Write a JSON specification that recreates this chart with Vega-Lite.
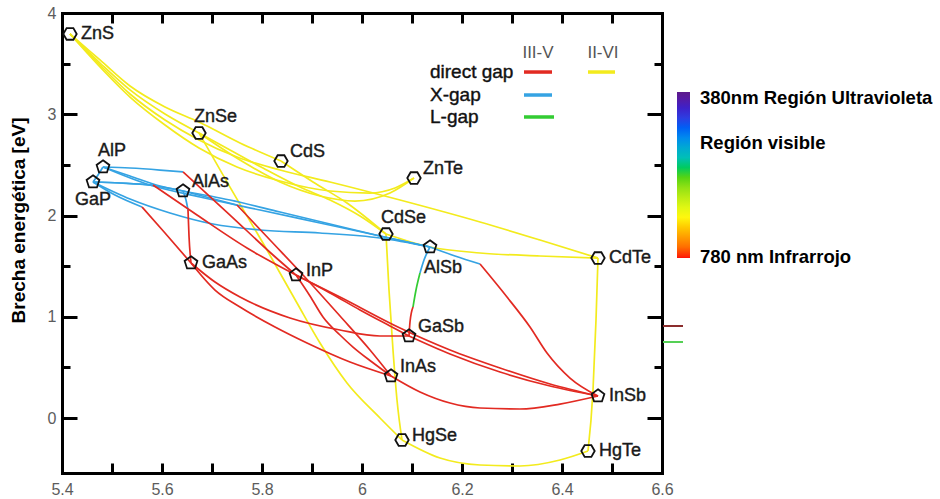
{
  "$schema": "https://vega.github.io/schema/vega-lite/v6.json",
  "width": 600,
  "height": 460,
  "autosize": {"type": "none"},
  "padding": {"left": 62, "top": 13, "right": 278, "bottom": 26},
  "background": "white",
  "config": {
    "view": {"stroke": null},
    "axis": {"domainColor": "black", "domainWidth": 3, "domainCap": "square", "tickColor": "black", "tickWidth": 3, "grid": false, "labelFont": "Liberation Sans", "labelFontSize": 16, "labelColor": "#5c5c5c", "labelFlush": false, "labelOverlap": false}
  },
  "datasets": {
    "curvas": [
      {"c":"ZnS-ZnSe","t":"II-VI","x":5.416,"y":3.793},{"c":"ZnS-ZnSe","t":"II-VI","x":5.476,"y":3.506},{"c":"ZnS-ZnSe","t":"II-VI","x":5.536,"y":3.24},{"c":"ZnS-ZnSe","t":"II-VI","x":5.606,"y":3.002},{"c":"ZnS-ZnSe","t":"II-VI","x":5.674,"y":2.815},
      {"c":"ZnS-CdS","t":"II-VI","x":5.416,"y":3.793},{"c":"ZnS-CdS","t":"II-VI","x":5.476,"y":3.536},{"c":"ZnS-CdS","t":"II-VI","x":5.536,"y":3.279},{"c":"ZnS-CdS","t":"II-VI","x":5.606,"y":3.072},{"c":"ZnS-CdS","t":"II-VI","x":5.674,"y":2.923},{"c":"ZnS-CdS","t":"II-VI","x":5.756,"y":2.716},{"c":"ZnS-CdS","t":"II-VI","x":5.838,"y":2.538},
      {"c":"ZnS-CdTe","t":"II-VI","x":5.416,"y":3.793},{"c":"ZnS-CdTe","t":"II-VI","x":5.476,"y":3.486},{"c":"ZnS-CdTe","t":"II-VI","x":5.536,"y":3.2},{"c":"ZnS-CdTe","t":"II-VI","x":5.606,"y":2.943},{"c":"ZnS-CdTe","t":"II-VI","x":5.674,"y":2.746},{"c":"ZnS-CdTe","t":"II-VI","x":5.75,"y":2.578},{"c":"ZnS-CdTe","t":"II-VI","x":5.836,"y":2.449},{"c":"ZnS-CdTe","t":"II-VI","x":5.936,"y":2.331},{"c":"ZnS-CdTe","t":"II-VI","x":6.076,"y":2.153},{"c":"ZnS-CdTe","t":"II-VI","x":6.236,"y":1.936},{"c":"ZnS-CdTe","t":"II-VI","x":6.356,"y":1.758},{"c":"ZnS-CdTe","t":"II-VI","x":6.472,"y":1.58},
      {"c":"ZnS-ZnTe","t":"II-VI","x":5.416,"y":3.793},{"c":"ZnS-ZnTe","t":"II-VI","x":5.476,"y":3.467},{"c":"ZnS-ZnTe","t":"II-VI","x":5.536,"y":3.17},{"c":"ZnS-ZnTe","t":"II-VI","x":5.606,"y":2.894},{"c":"ZnS-ZnTe","t":"II-VI","x":5.674,"y":2.667},{"c":"ZnS-ZnTe","t":"II-VI","x":5.75,"y":2.479},{"c":"ZnS-ZnTe","t":"II-VI","x":5.836,"y":2.341},{"c":"ZnS-ZnTe","t":"II-VI","x":5.936,"y":2.242},{"c":"ZnS-ZnTe","t":"II-VI","x":6.016,"y":2.222},{"c":"ZnS-ZnTe","t":"II-VI","x":6.066,"y":2.272},{"c":"ZnS-ZnTe","t":"II-VI","x":6.104,"y":2.37},
      {"c":"ZnSe-ZnTe","t":"II-VI","x":5.674,"y":2.815},{"c":"ZnSe-ZnTe","t":"II-VI","x":5.756,"y":2.548},{"c":"ZnSe-ZnTe","t":"II-VI","x":5.836,"y":2.331},{"c":"ZnSe-ZnTe","t":"II-VI","x":5.916,"y":2.193},{"c":"ZnSe-ZnTe","t":"II-VI","x":5.986,"y":2.143},{"c":"ZnSe-ZnTe","t":"II-VI","x":6.056,"y":2.222},{"c":"ZnSe-ZnTe","t":"II-VI","x":6.104,"y":2.37},
      {"c":"ZnSe-CdSe","t":"II-VI","x":5.674,"y":2.815},{"c":"ZnSe-CdSe","t":"II-VI","x":5.736,"y":2.647},{"c":"ZnSe-CdSe","t":"II-VI","x":5.802,"y":2.469},{"c":"ZnSe-CdSe","t":"II-VI","x":5.876,"y":2.281},{"c":"ZnSe-CdSe","t":"II-VI","x":5.936,"y":2.153},{"c":"ZnSe-CdSe","t":"II-VI","x":5.996,"y":1.995},{"c":"ZnSe-CdSe","t":"II-VI","x":6.048,"y":1.817},
      {"c":"ZnSe-HgSe","t":"II-VI","x":5.674,"y":2.815},{"c":"ZnSe-HgSe","t":"II-VI","x":5.736,"y":2.281},{"c":"ZnSe-HgSe","t":"II-VI","x":5.81,"y":1.659},{"c":"ZnSe-HgSe","t":"II-VI","x":5.87,"y":1.136},{"c":"ZnSe-HgSe","t":"II-VI","x":5.916,"y":0.741},{"c":"ZnSe-HgSe","t":"II-VI","x":5.97,"y":0.346},{"c":"ZnSe-HgSe","t":"II-VI","x":6.036,"y":0},{"c":"ZnSe-HgSe","t":"II-VI","x":6.08,"y":-0.217},
      {"c":"CdS-CdSe","t":"II-VI","x":5.838,"y":2.538},{"c":"CdS-CdSe","t":"II-VI","x":5.902,"y":2.331},{"c":"CdS-CdSe","t":"II-VI","x":5.97,"y":2.123},{"c":"CdS-CdSe","t":"II-VI","x":6.048,"y":1.817},
      {"c":"CdSe-CdTe","t":"II-VI","x":6.048,"y":1.817},{"c":"CdSe-CdTe","t":"II-VI","x":6.136,"y":1.689},{"c":"CdSe-CdTe","t":"II-VI","x":6.236,"y":1.63},{"c":"CdSe-CdTe","t":"II-VI","x":6.356,"y":1.6},{"c":"CdSe-CdTe","t":"II-VI","x":6.472,"y":1.58},
      {"c":"CdSe-HgSe","t":"II-VI","x":6.048,"y":1.817},{"c":"CdSe-HgSe","t":"II-VI","x":6.054,"y":1.264},{"c":"CdSe-HgSe","t":"II-VI","x":6.062,"y":0.672},{"c":"CdSe-HgSe","t":"II-VI","x":6.07,"y":0.178},{"c":"CdSe-HgSe","t":"II-VI","x":6.08,"y":-0.217},
      {"c":"HgSe-HgTe","t":"II-VI","x":6.08,"y":-0.217},{"c":"HgSe-HgTe","t":"II-VI","x":6.156,"y":-0.395},{"c":"HgSe-HgTe","t":"II-VI","x":6.236,"y":-0.464},{"c":"HgSe-HgTe","t":"II-VI","x":6.316,"y":-0.474},{"c":"HgSe-HgTe","t":"II-VI","x":6.396,"y":-0.415},{"c":"HgSe-HgTe","t":"II-VI","x":6.452,"y":-0.326},
      {"c":"CdTe-HgTe","t":"II-VI","x":6.452,"y":-0.326},{"c":"CdTe-HgTe","t":"II-VI","x":6.462,"y":0.277},{"c":"CdTe-HgTe","t":"II-VI","x":6.468,"y":0.968},{"c":"CdTe-HgTe","t":"II-VI","x":6.472,"y":1.58},
      {"c":"AlP-GaP","t":"X","x":5.462,"y":2.331},{"c":"AlP-GaP","t":"X","x":5.472,"y":2.4},{"c":"AlP-GaP","t":"X","x":5.482,"y":2.479},
      {"c":"AlP-AlAs","t":"X","x":5.482,"y":2.479},{"c":"AlP-AlAs","t":"X","x":5.536,"y":2.39},{"c":"AlP-AlAs","t":"X","x":5.596,"y":2.291},{"c":"AlP-AlAs","t":"X","x":5.642,"y":2.242},
      {"c":"GaP-AlAs","t":"X","x":5.462,"y":2.331},{"c":"GaP-AlAs","t":"X","x":5.516,"y":2.321},{"c":"GaP-AlAs","t":"X","x":5.576,"y":2.301},{"c":"GaP-AlAs","t":"X","x":5.642,"y":2.242},
      {"c":"AlP-InP X","t":"X","x":5.482,"y":2.479},{"c":"AlP-InP X","t":"X","x":5.536,"y":2.469},{"c":"AlP-InP X","t":"X","x":5.596,"y":2.449},{"c":"AlP-InP X","t":"X","x":5.642,"y":2.43},
      {"c":"GaP-InP X","t":"X","x":5.462,"y":2.331},{"c":"GaP-InP X","t":"X","x":5.516,"y":2.321},{"c":"GaP-InP X","t":"X","x":5.582,"y":2.301},
      {"c":"GaP-GaAs X","t":"X","x":5.462,"y":2.331},{"c":"GaP-GaAs X","t":"X","x":5.506,"y":2.202},{"c":"GaP-GaAs X","t":"X","x":5.56,"y":2.084},
      {"c":"AlAs-GaAs X","t":"X","x":5.642,"y":2.242},{"c":"AlAs-GaAs X","t":"X","x":5.648,"y":2.153},{"c":"AlAs-GaAs X","t":"X","x":5.652,"y":2.054},
      {"c":"AlAs-InAs X","t":"X","x":5.642,"y":2.242},{"c":"AlAs-InAs X","t":"X","x":5.696,"y":2.173},{"c":"AlAs-InAs X","t":"X","x":5.75,"y":2.104},
      {"c":"AlAs-AlSb","t":"X","x":5.642,"y":2.242},{"c":"AlAs-AlSb","t":"X","x":5.736,"y":2.153},{"c":"AlAs-AlSb","t":"X","x":5.836,"y":2.035},{"c":"AlAs-AlSb","t":"X","x":5.936,"y":1.916},{"c":"AlAs-AlSb","t":"X","x":6.036,"y":1.798},{"c":"AlAs-AlSb","t":"X","x":6.136,"y":1.689},
      {"c":"AlP-AlSb","t":"X","x":5.482,"y":2.479},{"c":"AlP-AlSb","t":"X","x":5.576,"y":2.301},{"c":"AlP-AlSb","t":"X","x":5.676,"y":2.183},{"c":"AlP-AlSb","t":"X","x":5.796,"y":2.054},{"c":"AlP-AlSb","t":"X","x":5.916,"y":1.926},{"c":"AlP-AlSb","t":"X","x":6.036,"y":1.798},{"c":"AlP-AlSb","t":"X","x":6.136,"y":1.689},
      {"c":"GaP-AlSb","t":"X","x":5.462,"y":2.331},{"c":"GaP-AlSb","t":"X","x":5.536,"y":2.163},{"c":"GaP-AlSb","t":"X","x":5.616,"y":2.025},{"c":"GaP-AlSb","t":"X","x":5.702,"y":1.916},{"c":"GaP-AlSb","t":"X","x":5.796,"y":1.857},{"c":"GaP-AlSb","t":"X","x":5.916,"y":1.827},{"c":"GaP-AlSb","t":"X","x":6.036,"y":1.778},{"c":"GaP-AlSb","t":"X","x":6.136,"y":1.689},
      {"c":"AlSb-InSb X","t":"X","x":6.136,"y":1.689},{"c":"AlSb-InSb X","t":"X","x":6.186,"y":1.6},{"c":"AlSb-InSb X","t":"X","x":6.236,"y":1.521},
      {"c":"AlSb-GaSb X","t":"X","x":6.116,"y":1.432},{"c":"AlSb-GaSb X","t":"X","x":6.124,"y":1.56},{"c":"AlSb-GaSb X","t":"X","x":6.136,"y":1.689},
      {"c":"AlSb-GaSb L","t":"L","x":6.102,"y":1.096},{"c":"AlSb-GaSb L","t":"L","x":6.108,"y":1.264},{"c":"AlSb-GaSb L","t":"L","x":6.116,"y":1.432},
      {"c":"AlSb-GaSb D","t":"directo","x":6.094,"y":0.81},{"c":"AlSb-GaSb D","t":"directo","x":6.096,"y":0.948},{"c":"AlSb-GaSb D","t":"directo","x":6.102,"y":1.096},
      {"c":"AlP-InP D","t":"directo","x":5.642,"y":2.43},{"c":"AlP-InP D","t":"directo","x":5.736,"y":2.005},{"c":"AlP-InP D","t":"directo","x":5.822,"y":1.61},{"c":"AlP-InP D","t":"directo","x":5.868,"y":1.412},
      {"c":"GaP-InP D","t":"directo","x":5.582,"y":2.301},{"c":"GaP-InP D","t":"directo","x":5.67,"y":2.005},{"c":"GaP-InP D","t":"directo","x":5.77,"y":1.679},{"c":"GaP-InP D","t":"directo","x":5.868,"y":1.412},
      {"c":"GaP-GaAs D","t":"directo","x":5.56,"y":2.084},{"c":"GaP-GaAs D","t":"directo","x":5.606,"y":1.827},{"c":"GaP-GaAs D","t":"directo","x":5.658,"y":1.531},
      {"c":"AlAs-GaAs D","t":"directo","x":5.652,"y":2.054},{"c":"AlAs-GaAs D","t":"directo","x":5.654,"y":1.798},{"c":"AlAs-GaAs D","t":"directo","x":5.658,"y":1.531},
      {"c":"AlAs-InAs D","t":"directo","x":5.75,"y":2.104},{"c":"AlAs-InAs D","t":"directo","x":5.816,"y":1.758},{"c":"AlAs-InAs D","t":"directo","x":5.882,"y":1.412},{"c":"AlAs-InAs D","t":"directo","x":5.956,"y":1.007},{"c":"AlAs-InAs D","t":"directo","x":6.016,"y":0.672},{"c":"AlAs-InAs D","t":"directo","x":6.058,"y":0.415},
      {"c":"GaAs-InAs","t":"directo","x":5.658,"y":1.531},{"c":"GaAs-InAs","t":"directo","x":5.706,"y":1.264},{"c":"GaAs-InAs","t":"directo","x":5.756,"y":1.096},{"c":"GaAs-InAs","t":"directo","x":5.826,"y":0.899},{"c":"GaAs-InAs","t":"directo","x":5.89,"y":0.741},{"c":"GaAs-InAs","t":"directo","x":5.976,"y":0.553},{"c":"GaAs-InAs","t":"directo","x":6.058,"y":0.415},
      {"c":"GaAs-GaSb","t":"directo","x":5.658,"y":1.531},{"c":"GaAs-GaSb","t":"directo","x":5.706,"y":1.343},{"c":"GaAs-GaSb","t":"directo","x":5.756,"y":1.195},{"c":"GaAs-GaSb","t":"directo","x":5.856,"y":0.988},{"c":"GaAs-GaSb","t":"directo","x":5.956,"y":0.869},{"c":"GaAs-GaSb","t":"directo","x":6.036,"y":0.81},{"c":"GaAs-GaSb","t":"directo","x":6.094,"y":0.81},
      {"c":"InP-InAs","t":"directo","x":5.868,"y":1.412},{"c":"InP-InAs","t":"directo","x":5.896,"y":1.205},{"c":"InP-InAs","t":"directo","x":5.922,"y":0.998},{"c":"InP-InAs","t":"directo","x":5.956,"y":0.82},{"c":"InP-InAs","t":"directo","x":5.982,"y":0.701},{"c":"InP-InAs","t":"directo","x":6.02,"y":0.553},{"c":"InP-InAs","t":"directo","x":6.058,"y":0.415},
      {"c":"InP-GaSb","t":"directo","x":5.868,"y":1.412},{"c":"InP-GaSb","t":"directo","x":5.936,"y":1.235},{"c":"InP-GaSb","t":"directo","x":5.996,"y":1.067},{"c":"InP-GaSb","t":"directo","x":6.056,"y":0.909},{"c":"InP-GaSb","t":"directo","x":6.094,"y":0.81},
      {"c":"InP-InSb","t":"directo","x":5.868,"y":1.412},{"c":"InP-InSb","t":"directo","x":5.956,"y":1.195},{"c":"InP-InSb","t":"directo","x":6.076,"y":0.889},{"c":"InP-InSb","t":"directo","x":6.176,"y":0.672},{"c":"InP-InSb","t":"directo","x":6.276,"y":0.494},{"c":"InP-InSb","t":"directo","x":6.376,"y":0.336},{"c":"InP-InSb","t":"directo","x":6.472,"y":0.217},
      {"c":"GaSb-InSb","t":"directo","x":6.094,"y":0.81},{"c":"GaSb-InSb","t":"directo","x":6.176,"y":0.632},{"c":"GaSb-InSb","t":"directo","x":6.276,"y":0.454},{"c":"GaSb-InSb","t":"directo","x":6.376,"y":0.316},{"c":"GaSb-InSb","t":"directo","x":6.472,"y":0.217},
      {"c":"InAs-InSb","t":"directo","x":6.058,"y":0.415},{"c":"InAs-InSb","t":"directo","x":6.116,"y":0.257},{"c":"InAs-InSb","t":"directo","x":6.176,"y":0.148},{"c":"InAs-InSb","t":"directo","x":6.236,"y":0.099},{"c":"InAs-InSb","t":"directo","x":6.316,"y":0.089},{"c":"InAs-InSb","t":"directo","x":6.396,"y":0.138},{"c":"InAs-InSb","t":"directo","x":6.472,"y":0.217},
      {"c":"AlSb-InSb D","t":"directo","x":6.236,"y":1.521},{"c":"AlSb-InSb D","t":"directo","x":6.29,"y":1.195},{"c":"AlSb-InSb D","t":"directo","x":6.336,"y":0.899},{"c":"AlSb-InSb D","t":"directo","x":6.37,"y":0.642},{"c":"AlSb-InSb D","t":"directo","x":6.416,"y":0.395},{"c":"AlSb-InSb D","t":"directo","x":6.472,"y":0.217}
    ],
    "compuestos": [
      {"n":"ZnS","f":"II-VI","x":5.416,"y":3.793},
      {"n":"ZnSe","f":"II-VI","x":5.674,"y":2.815},
      {"n":"CdS","f":"II-VI","x":5.838,"y":2.538},
      {"n":"ZnTe","f":"II-VI","x":6.104,"y":2.37},
      {"n":"CdSe","f":"II-VI","x":6.048,"y":1.817},
      {"n":"CdTe","f":"II-VI","x":6.472,"y":1.58},
      {"n":"HgSe","f":"II-VI","x":6.08,"y":-0.217},
      {"n":"HgTe","f":"II-VI","x":6.452,"y":-0.326},
      {"n":"AlP","f":"III-V","x":5.482,"y":2.479},
      {"n":"GaP","f":"III-V","x":5.462,"y":2.331},
      {"n":"AlAs","f":"III-V","x":5.642,"y":2.242},
      {"n":"GaAs","f":"III-V","x":5.658,"y":1.531},
      {"n":"InP","f":"III-V","x":5.868,"y":1.412},
      {"n":"AlSb","f":"III-V","x":6.136,"y":1.689},
      {"n":"GaSb","f":"III-V","x":6.094,"y":0.81},
      {"n":"InAs","f":"III-V","x":6.058,"y":0.415},
      {"n":"InSb","f":"III-V","x":6.472,"y":0.217}
    ],
    "muestras": [
      {"t":"directo","x":6.324,"x2":6.38,"y":3.417},
      {"t":"II-VI","x":6.452,"x2":6.506,"y":3.417},
      {"t":"X","x":6.324,"x2":6.38,"y":3.19},
      {"t":"L","x":6.324,"x2":6.384,"y":2.973}
    ],
    "leyenda": [
      {"txt":"III-V","k":"h","x":6.352,"y":3.605},
      {"txt":"II-VI","k":"h","x":6.482,"y":3.605},
      {"txt":"direct gap","k":"t","x":6.136,"y":3.417},
      {"txt":"X-gap","k":"t","x":6.136,"y":3.19},
      {"txt":"L-gap","k":"t","x":6.136,"y":2.973}
    ]
  },
  "layer": [
    {
      "data": {"values": [{"eV": 1.59}, {"eV": 3.26}]},
      "mark": {"type": "rect", "fillOpacity": 0, "strokeWidth": 0},
      "encoding": {
        "fill": {
          "field": "eV", "type": "quantitative",
          "scale": {"domain": [1.59, 1.79, 2.0175, 2.258, 2.458, 2.659, 2.926, 3.093, 3.26], "range": ["#ff0a0a", "#ff9900", "#ffff1a", "#a6e619", "#19cc19", "#19b3c8", "#1a4ff0", "#3a22cc", "#5c1a8a"]},
          "legend": {"title": null, "orient": "none", "legendX": 615, "legendY": 79, "direction": "vertical", "gradientLength": 166, "gradientThickness": 13, "gradientStrokeWidth": 0, "padding": 0, "values": [1.6, 2.747, 3.2], "labelExpr": "datum.value > 3 ? '380nm Región Ultravioleta' : datum.value > 2 ? 'Región visible' : '780 nm Infrarrojo'", "labelFont": "Liberation Sans", "labelFontSize": 18.5, "labelFontWeight": "bold", "labelColor": "black", "labelOffset": 10, "labelBaseline": "middle", "labelLimit": 400, "labelOverlap": false,
                     "encode": {"labels": {"update": {"baseline": {"value": "middle"}}}}}
        }
      }
    },
    {
      "data": {"name": "curvas"},
      "mark": {"type": "line", "strokeWidth": 1.7, "interpolate": "monotone"},
      "encoding": {
        "x": {"field": "x", "type": "quantitative", "scale": {"domain": [5.4, 6.6], "nice": false, "zero": false},
              "axis": {"orient": "bottom", "values": [5.4,5.5,5.6,5.7,5.8,5.9,6,6.1,6.2,6.3,6.4,6.5,6.6], "labelExpr": "round(datum.value*10)%2==0 ? format(datum.value,'~g') : ''", "tickSize": -10, "labelPadding": 18, "title": null}},
        "y": {"field": "y", "type": "quantitative", "scale": {"domain": [-0.543, 4], "nice": false, "zero": false},
              "axis": {"orient": "left", "values": [0,1,2,3,4], "format": "d", "tickSize": -15, "labelPadding": 21, "title": "Brecha energética [eV]", "titleFont": "Liberation Sans", "titleFontSize": 19, "titleFontWeight": "bold", "titleColor": "black", "titleX": -44, "titleY": 207, "titleAngle": 270, "titleAlign": "center", "titleBaseline": "middle"}},
        "stroke": {"field": "t", "type": "nominal", "scale": {"domain": ["directo", "X", "L", "II-VI"], "range": ["#e22a22", "#35a3e3", "#33cc33", "#f3eb1d"]}, "legend": null},
        "detail": {"field": "c"}
      }
    },
    {
      "data": {"name": "muestras"},
      "mark": {"type": "rule", "strokeWidth": 3.5},
      "encoding": {
        "x": {"field": "x", "type": "quantitative", "axis": null},
        "x2": {"field": "x2"},
        "y": {"field": "y", "type": "quantitative", "axis": null},
        "stroke": {"field": "t", "type": "nominal", "legend": null}
      }
    },
    {
      "data": {"name": "leyenda"},
      "transform": [{"filter": "datum.k == 'h'"}],
      "mark": {"type": "text", "align": "center", "baseline": "middle", "font": "Liberation Sans", "fontSize": 17, "fill": "#555555"},
      "encoding": {
        "x": {"field": "x", "type": "quantitative", "axis": null},
        "y": {"field": "y", "type": "quantitative", "axis": null},
        "text": {"field": "txt"}
      }
    },
    {
      "data": {"name": "leyenda"},
      "transform": [{"filter": "datum.k == 't'"}],
      "mark": {"type": "text", "align": "left", "baseline": "middle", "font": "Liberation Sans", "fontSize": 19, "fill": "#111111", "stroke": "#111111", "strokeWidth": 0.4},
      "encoding": {
        "x": {"field": "x", "type": "quantitative", "axis": null},
        "y": {"field": "y", "type": "quantitative", "axis": null},
        "text": {"field": "txt"}
      }
    },
    {
      "data": {"values": [{"x": 6.602, "x2": 6.642, "y": 0.909}]},
      "mark": {"type": "rule", "strokeWidth": 2, "stroke": "#8b2d2d"},
      "encoding": {
        "x": {"field": "x", "type": "quantitative", "axis": null},
        "x2": {"field": "x2"},
        "y": {"field": "y", "type": "quantitative", "axis": null}
      }
    },
    {
      "data": {"values": [{"x": 6.602, "x2": 6.642, "y": 0.751}]},
      "mark": {"type": "rule", "strokeWidth": 2, "stroke": "#55d055"},
      "encoding": {
        "x": {"field": "x", "type": "quantitative", "axis": null},
        "x2": {"field": "x2"},
        "y": {"field": "y", "type": "quantitative", "axis": null}
      }
    },
    {
      "data": {"name": "compuestos"},
      "mark": {"type": "point", "filled": false, "stroke": "#111111", "strokeWidth": 1.8, "size": 180, "opacity": 1},
      "encoding": {
        "x": {"field": "x", "type": "quantitative", "axis": {"orient": "top", "values": [5.4,5.5,5.6,5.7,5.8,5.9,6,6.1,6.2,6.3,6.4,6.5,6.6], "labels": false, "tickSize": -10, "title": null}},
        "y": {"field": "y", "type": "quantitative", "axis": {"orient": "right", "values": [0,1,2,3], "labels": false, "tickSize": -15, "title": null}},
        "shape": {"field": "f", "type": "nominal", "scale": {"domain": ["III-V", "II-VI"], "range": ["M0,-1L0.951,-0.309L0.588,0.809L-0.588,0.809L-0.951,-0.309Z", "M-1,0L-0.5,-0.866L0.5,-0.866L1,0L0.5,0.866L-0.5,0.866Z"]}, "legend": null}
      }
    },
    {
      "data": {"name": "compuestos"},
      "transform": [{"filter": {"field": "n", "oneOf": ["ZnS", "CdTe", "GaAs", "InSb", "HgTe"]}}],
      "mark": {"type": "text", "align": "left", "baseline": "middle", "dx": 11, "dy": 0, "font": "Liberation Sans", "fontSize": 18, "fill": "#1a1a1a", "stroke": "#1a1a1a", "strokeWidth": 0.4},
      "encoding": {
        "x": {"field": "x", "type": "quantitative", "axis": null},
        "y": {"field": "y", "type": "quantitative", "axis": {"orient": "left", "values": [0.5,1.5,2.5,3.5], "labels": false, "tickSize": -8, "title": null}},
        "text": {"field": "n"}
      }
    },
    {
      "data": {"name": "compuestos"},
      "transform": [{"filter": {"field": "n", "oneOf": ["InP", "HgSe"]}}],
      "mark": {"type": "text", "align": "left", "baseline": "middle", "dx": 10, "dy": -4, "font": "Liberation Sans", "fontSize": 18, "fill": "#1a1a1a", "stroke": "#1a1a1a", "strokeWidth": 0.4},
      "encoding": {
        "x": {"field": "x", "type": "quantitative", "axis": null},
        "y": {"field": "y", "type": "quantitative", "axis": {"orient": "right", "values": [0.5,1.5,2.5,3.5], "labels": false, "tickSize": -8, "title": null}},
        "text": {"field": "n"}
      }
    },
    {
      "data": {"name": "compuestos"},
      "transform": [{"filter": {"field": "n", "oneOf": ["CdS", "ZnTe", "AlAs", "GaSb", "InAs"]}}],
      "mark": {"type": "text", "align": "left", "baseline": "middle", "dx": 9, "dy": -9, "font": "Liberation Sans", "fontSize": 18, "fill": "#1a1a1a", "stroke": "#1a1a1a", "strokeWidth": 0.4},
      "encoding": {
        "x": {"field": "x", "type": "quantitative", "axis": null},
        "y": {"field": "y", "type": "quantitative", "axis": null},
        "text": {"field": "n"}
      }
    },
    {
      "data": {"name": "compuestos"},
      "transform": [{"filter": {"field": "n", "oneOf": ["ZnSe", "AlP", "CdSe"]}}],
      "mark": {"type": "text", "align": "left", "baseline": "middle", "dx": -5, "dy": -16, "font": "Liberation Sans", "fontSize": 18, "fill": "#1a1a1a", "stroke": "#1a1a1a", "strokeWidth": 0.4},
      "encoding": {
        "x": {"field": "x", "type": "quantitative", "axis": null},
        "y": {"field": "y", "type": "quantitative", "axis": null},
        "text": {"field": "n"}
      }
    },
    {
      "data": {"name": "compuestos"},
      "transform": [{"filter": {"field": "n", "oneOf": ["GaP"]}}],
      "mark": {"type": "text", "align": "left", "baseline": "middle", "dx": -18, "dy": 18, "font": "Liberation Sans", "fontSize": 18, "fill": "#1a1a1a", "stroke": "#1a1a1a", "strokeWidth": 0.4},
      "encoding": {
        "x": {"field": "x", "type": "quantitative", "axis": null},
        "y": {"field": "y", "type": "quantitative", "axis": null},
        "text": {"field": "n"}
      }
    },
    {
      "data": {"name": "compuestos"},
      "transform": [{"filter": {"field": "n", "oneOf": ["AlSb"]}}],
      "mark": {"type": "text", "align": "left", "baseline": "middle", "dx": -6, "dy": 21, "font": "Liberation Sans", "fontSize": 18, "fill": "#1a1a1a", "stroke": "#1a1a1a", "strokeWidth": 0.4},
      "encoding": {
        "x": {"field": "x", "type": "quantitative", "axis": null},
        "y": {"field": "y", "type": "quantitative", "axis": null},
        "text": {"field": "n"}
      }
    }
  ],
  "resolve": {"axis": {"x": "independent", "y": "independent"}}
}
